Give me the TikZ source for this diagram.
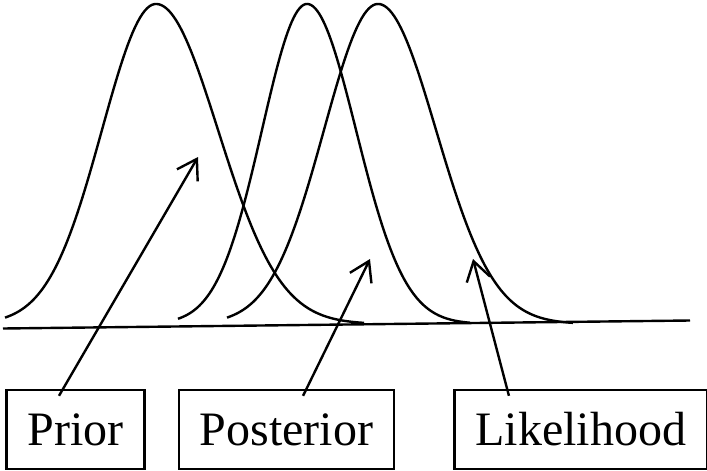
\documentclass[tikz,border=0pt]{standalone}
\usepackage{fontspec}
\setmainfont{Liberation Serif}
\usetikzlibrary{arrows.meta,positioning}

\begin{document}
\begin{tikzpicture}[x=1pt, y=-1pt, line width=2.4pt,
  box/.style={draw, inner xsep=21pt, minimum height=79pt, font=\fontsize{48}{56}\selectfont},
  pointer/.style={-{Straight Barb[length=19pt,width=24pt]}},
  declare function={bump(\xa,\ma,\sa,\sb)=324-320*exp(-0.5*((\xa-\ma)/((\xa<\ma)*\sa+(\xa>=\ma)*\sb))^2);}]

\useasboundingbox (0,0) rectangle (707,471);

% Kurven
\draw plot[domain=5:364, samples=150] (\x,{bump(\x,156,54,62)});
\draw plot[domain=178:470, samples=150] (\x,{bump(\x,307,45,49)});
\draw plot[domain=227:573, samples=150] (\x,{bump(\x,378,54,58)});

% Achse
\draw (3,328.5) -- (690,320.5);

% Kaesten
\node[box] (prior) at (75.5,429.5) {Prior};
\node[box, right=32pt of prior] (posterior) {Posterior};
\node[box, right=58pt of posterior] (likelihood) {Likelihood};

% Pfeile
\coordinate (priortip) at (198,157);
\coordinate (posttip)  at (370,259);
\coordinate (liketip)  at (473,259);
\draw[pointer] ([xshift=-16.5pt,yshift=-7pt]prior.north) -- (priortip);
\draw[pointer] ([xshift=16.5pt,yshift=-7pt]posterior.north) -- (posttip);
\draw[pointer] ([xshift=-72pt,yshift=-7pt]likelihood.north) -- (liketip);

\end{tikzpicture}
\end{document}
